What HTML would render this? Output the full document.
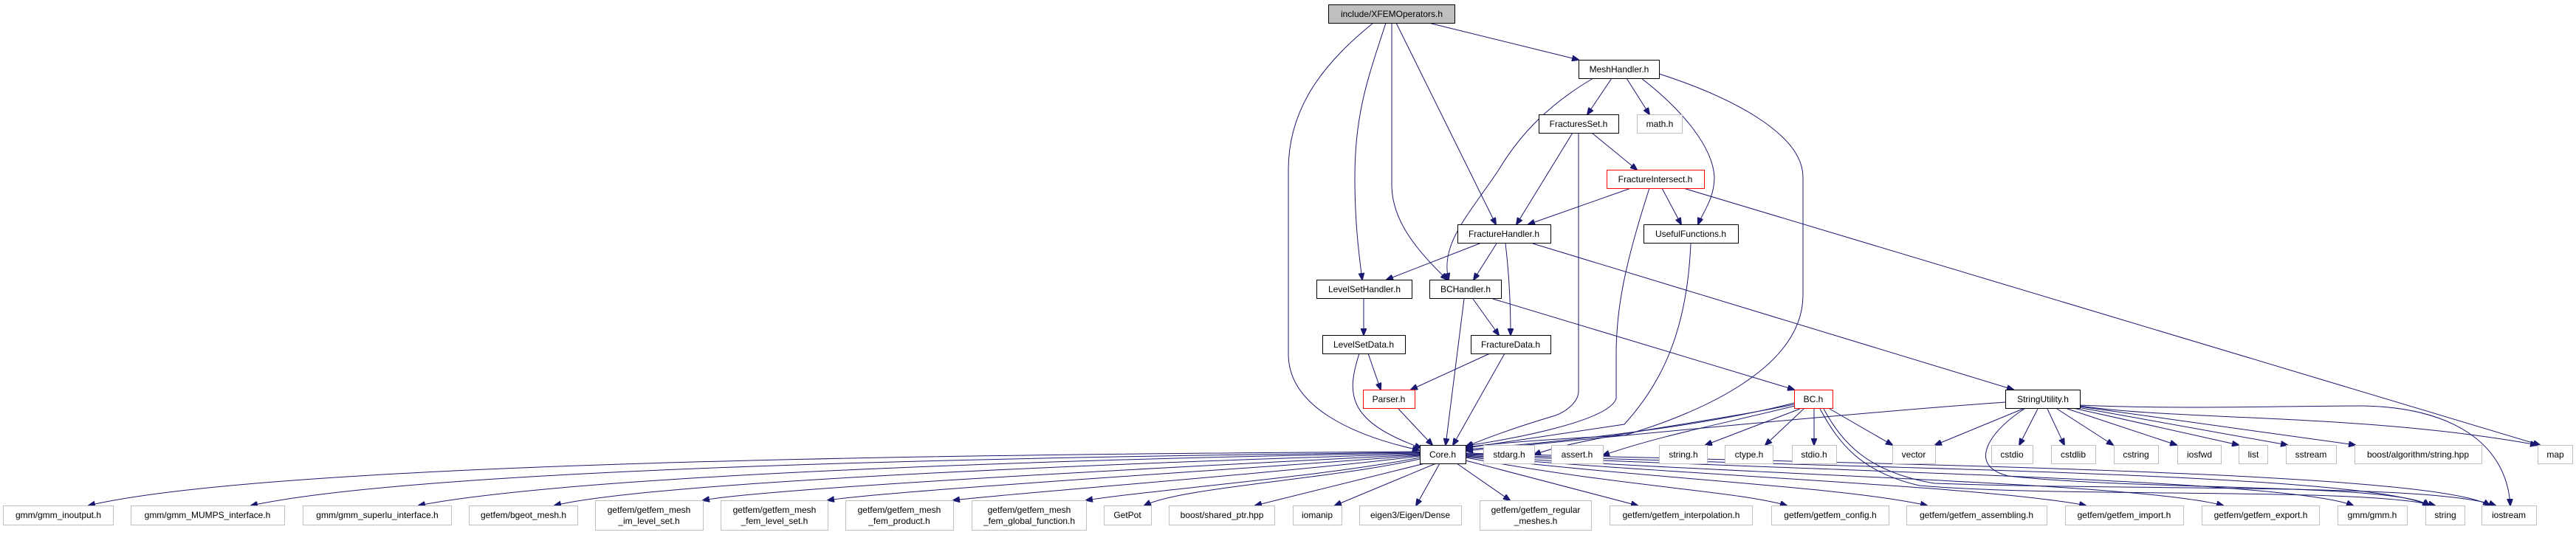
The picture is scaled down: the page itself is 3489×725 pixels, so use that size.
<!DOCTYPE html>
<html><head><meta charset="utf-8"><style>
html,body{margin:0;padding:0;background:#fff;}
svg{display:block;}
text{font-family:"Liberation Sans",sans-serif;font-size:12px;fill:#000;text-anchor:middle;}
.e{fill:none;stroke:#191970;stroke-width:1;}
.n{fill:#fff;stroke:#000;stroke-width:1;}
.g{fill:#fff;stroke:#bfbfbf;stroke-width:1;}
.r{fill:#fff;stroke:#ff0000;stroke-width:1;}
</style></head><body>
<svg width="3489" height="725" viewBox="0 0 3489 725" xmlns="http://www.w3.org/2000/svg">
<defs><marker id="a" markerWidth="10" markerHeight="8" refX="9" refY="4" orient="auto" markerUnits="userSpaceOnUse"><path d="M0,0 L10,4 L0,8 z" fill="#191970" stroke="#191970"/></marker></defs>
<g class="e" marker-end="url(#a)">
<path d="M1935,31 L2138,81"/>
<path d="M1860,31 C1800,80 1745,140 1745,230 L1745,480 C1745,550 1830,590 1922,610"/>
<path d="M1877,31 C1855,100 1835,150 1835,240 C1835,300 1840,340 1845,379"/>
<path d="M1885,31 L1885,250 C1885,300 1920,340 1960,379"/>
<path d="M1891,31 L2026,304"/>
<path d="M2183,106 L2150,155"/>
<path d="M2203,106 L2234,155"/>
<path d="M2223,106 C2280,150 2320,200 2322,240 C2322,270 2305,290 2300,304"/>
<path d="M2158,106 C2100,140 2060,180 2030,230 C1990,290 1950,330 1962,379"/>
<path d="M2247,100 C2340,130 2442,180 2442,240 L2442,400 C2442,500 2300,560 2200,590 C2100,595 2030,600 1986,606"/>
<path d="M2130,180 L2054,304"/>
<path d="M2138,180 L2138,530 C2138,545 2120,560 2100,565 C2050,580 2010,595 1986,605"/>
<path d="M2156,180 L2217,230"/>
<path d="M2209,255 L2070,304"/>
<path d="M2251,255 L2277,304"/>
<path d="M2234,255 C2200,360 2189,420 2189,480 L2189,540 C2180,570 2050,595 1986,604"/>
<path d="M2280,255 L3440,603"/>
<path d="M2004,330 L1878,379"/>
<path d="M2027,330 L1996,379"/>
<path d="M2039,330 C2045,380 2046,420 2046,454"/>
<path d="M2076,330 L2727,528"/>
<path d="M1847,405 L1847,454"/>
<path d="M1995,405 L2030,454"/>
<path d="M1983,405 L1958,603"/>
<path d="M2022,405 L2430,528"/>
<path d="M1853,479 L1870,528"/>
<path d="M1841,479 C1825,530 1820,570 1925,607"/>
<path d="M2018,479 L1911,528"/>
<path d="M2038,479 L1968,603"/>
<path d="M1894,554 L1940,603"/>
<path d="M2290,330 C2285,450 2250,520 2200,575 C2100,590 2030,600 1986,607"/>
<path d="M2430,546 C2300,580 2100,600 1986,609"/>
<path d="M2430,548 C2300,575 2150,590 2078,616"/>
<path d="M2431,550 C2330,575 2250,590 2171,617"/>
<path d="M2438,554 L2310,603"/>
<path d="M2443,554 L2391,603"/>
<path d="M2457,554 L2457,603"/>
<path d="M2478,554 L2563,603"/>
<path d="M2465,554 C2490,600 2520,640 2600,658 C2800,675 3200,660 3298,685"/>
<path d="M2470,554 C2495,600 2530,640 2620,655 C2900,665 3300,655 3380,685"/>
<path d="M2716,545 C2500,560 2100,600 1986,611"/>
<path d="M2740,554 L2621,603"/>
<path d="M2760,554 L2735,603"/>
<path d="M2773,554 L2796,603"/>
<path d="M2786,554 L2862,603"/>
<path d="M2800,554 L2948,603"/>
<path d="M2808,553 L3032,603"/>
<path d="M2814,552 L3098,603"/>
<path d="M2817,551 L3190,603"/>
<path d="M2817,550 C2950,570 3200,560 3436,603"/>
<path d="M2817,549 C2950,555 3100,550 3200,550 C3320,552 3395,600 3400,685"/>
<path d="M2742,554 C2700,580 2660,630 2720,645 C2900,665 3250,655 3290,685"/>
<path d="M1923,612 C1500,615 400,620 120,685"/>
<path d="M1923,613 C1500,618 600,630 340,685"/>
<path d="M1923,614 C1550,620 800,640 567,685"/>
<path d="M1923,615 C1600,625 900,650 751,685"/>
<path d="M1923,616 C1650,630 1050,660 952,678"/>
<path d="M1923,617 C1700,635 1200,665 1121,678"/>
<path d="M1923,618 C1750,640 1350,670 1291,678"/>
<path d="M1923,620 C1800,645 1550,665 1471,678"/>
<path d="M1923,622 C1800,650 1600,660 1550,685"/>
<path d="M1930,628 L1700,685"/>
<path d="M1945,628 L1808,685"/>
<path d="M1950,628 L1918,685"/>
<path d="M1973,628 L2045,678"/>
<path d="M1985,624 L2218,685"/>
<path d="M1985,620 C2200,660 2350,665 2420,685"/>
<path d="M1985,619 C2250,650 2500,660 2610,685"/>
<path d="M1985,618 C2300,645 2700,660 2825,685"/>
<path d="M1985,617 C2400,645 2900,655 3011,685"/>
<path d="M1985,616 C2500,640 3100,650 3187,685"/>
<path d="M1985,615 C2500,635 3200,640 3290,685"/>
<path d="M1985,614 C2600,630 3300,640 3372,685"/>
</g>
<rect x="1799.5" y="6.5" width="171" height="25" fill="#bfbfbf" stroke="#000"/><text x="1885" y="23">include/XFEMOperators.h</text>
<rect class="n" x="2138.5" y="81.5" width="109" height="25"/><text x="2193" y="98">MeshHandler.h</text>
<rect class="n" x="2084.5" y="155.5" width="108" height="25"/><text x="2138" y="172">FracturesSet.h</text>
<rect class="g" x="2217.5" y="155.5" width="61" height="25"/><text x="2248" y="172">math.h</text>
<rect class="r" x="2176.5" y="230.5" width="132" height="25"/><text x="2242" y="247">FractureIntersect.h</text>
<rect class="n" x="1974.5" y="304.5" width="126" height="25"/><text x="2037" y="321">FractureHandler.h</text>
<rect class="n" x="2226.5" y="304.5" width="128" height="25"/><text x="2290" y="321">UsefulFunctions.h</text>
<rect class="n" x="1783.5" y="379.5" width="129" height="25"/><text x="1848" y="396">LevelSetHandler.h</text>
<rect class="n" x="1936.5" y="379.5" width="97" height="25"/><text x="1985" y="396">BCHandler.h</text>
<rect class="n" x="1791.5" y="454.5" width="112" height="25"/><text x="1847" y="471">LevelSetData.h</text>
<rect class="n" x="1992.5" y="454.5" width="108" height="25"/><text x="2046" y="471">FractureData.h</text>
<rect class="r" x="1846.5" y="528.5" width="70" height="25"/><text x="1881" y="545">Parser.h</text>
<rect class="r" x="2430.5" y="528.5" width="52" height="25"/><text x="2456" y="545">BC.h</text>
<rect class="n" x="2716.5" y="528.5" width="101" height="25"/><text x="2767" y="545">StringUtility.h</text>
<rect class="n" x="1923.5" y="603.5" width="62" height="25"/><text x="1954" y="620">Core.h</text>
<g>
<rect class="g" x="2009.5" y="603.5" width="69" height="25"/><text x="2044" y="620">stdarg.h</text>
<rect class="g" x="2101.5" y="603.5" width="70" height="25"/><text x="2136" y="620">assert.h</text>
<rect class="g" x="2247.5" y="603.5" width="65" height="25"/><text x="2280" y="620">string.h</text>
<rect class="g" x="2336.5" y="603.5" width="65" height="25"/><text x="2369" y="620">ctype.h</text>
<rect class="g" x="2427.5" y="603.5" width="60" height="25"/><text x="2457" y="620">stdio.h</text>
<rect class="g" x="2563.5" y="603.5" width="58" height="25"/><text x="2592" y="620">vector</text>
<rect class="g" x="2697.5" y="603.5" width="56" height="25"/><text x="2725" y="620">cstdio</text>
<rect class="g" x="2778.5" y="603.5" width="60" height="25"/><text x="2808" y="620">cstdlib</text>
<rect class="g" x="2863.5" y="603.5" width="60" height="25"/><text x="2893" y="620">cstring</text>
<rect class="g" x="2949.5" y="603.5" width="59" height="25"/><text x="2979" y="620">iosfwd</text>
<rect class="g" x="3032.5" y="603.5" width="39" height="25"/><text x="3052" y="620">list</text>
<rect class="g" x="3096.5" y="603.5" width="68" height="25"/><text x="3130" y="620">sstream</text>
<rect class="g" x="3189.5" y="603.5" width="172" height="25"/><text x="3275" y="620">boost/algorithm/string.hpp</text>
<rect class="g" x="3437.5" y="603.5" width="47" height="25"/><text x="3461" y="620">map</text>
</g>
<g>
<rect class="g" x="4.5" y="685.5" width="149" height="26"/><text x="79" y="702">gmm/gmm_inoutput.h</text>
<rect class="g" x="177.5" y="685.5" width="208" height="26"/><text x="281" y="702">gmm/gmm_MUMPS_interface.h</text>
<rect class="g" x="410.5" y="685.5" width="201" height="26"/><text x="511" y="702">gmm/gmm_superlu_interface.h</text>
<rect class="g" x="635.5" y="685.5" width="147" height="26"/><text x="709" y="702">getfem/bgeot_mesh.h</text>
<rect class="g" x="806.5" y="678.5" width="146" height="40"/><text x="879" y="695">getfem/getfem_mesh</text><text x="879" y="710">_im_level_set.h</text>
<rect class="g" x="976.5" y="678.5" width="145" height="40"/><text x="1049" y="695">getfem/getfem_mesh</text><text x="1049" y="710">_fem_level_set.h</text>
<rect class="g" x="1145.5" y="678.5" width="146" height="40"/><text x="1218" y="695">getfem/getfem_mesh</text><text x="1218" y="710">_fem_product.h</text>
<rect class="g" x="1316.5" y="678.5" width="155" height="40"/><text x="1394" y="695">getfem/getfem_mesh</text><text x="1394" y="710">_fem_global_function.h</text>
<rect class="g" x="1495.5" y="685.5" width="64" height="26"/><text x="1527" y="702">GetPot</text>
<rect class="g" x="1583.5" y="685.5" width="143" height="26"/><text x="1655" y="702">boost/shared_ptr.hpp</text>
<rect class="g" x="1751.5" y="685.5" width="66" height="26"/><text x="1784" y="702">iomanip</text>
<rect class="g" x="1841.5" y="685.5" width="138" height="26"/><text x="1910" y="702">eigen3/Eigen/Dense</text>
<rect class="g" x="2004.5" y="678.5" width="151" height="40"/><text x="2080" y="695">getfem/getfem_regular</text><text x="2080" y="710">_meshes.h</text>
<rect class="g" x="2180.5" y="685.5" width="193" height="26"/><text x="2277" y="702">getfem/getfem_interpolation.h</text>
<rect class="g" x="2399.5" y="685.5" width="159" height="26"/><text x="2479" y="702">getfem/getfem_config.h</text>
<rect class="g" x="2582.5" y="685.5" width="190" height="26"/><text x="2677" y="702">getfem/getfem_assembling.h</text>
<rect class="g" x="2797.5" y="685.5" width="160" height="26"/><text x="2877" y="702">getfem/getfem_import.h</text>
<rect class="g" x="2982.5" y="685.5" width="159" height="26"/><text x="3062" y="702">getfem/getfem_export.h</text>
<rect class="g" x="3166.5" y="685.5" width="94" height="26"/><text x="3213" y="702">gmm/gmm.h</text>
<rect class="g" x="3285.5" y="685.5" width="53" height="26"/><text x="3312" y="702">string</text>
<rect class="g" x="3361.5" y="685.5" width="74" height="26"/><text x="3398" y="702">iostream</text>
</g>
</svg>
</body></html>
